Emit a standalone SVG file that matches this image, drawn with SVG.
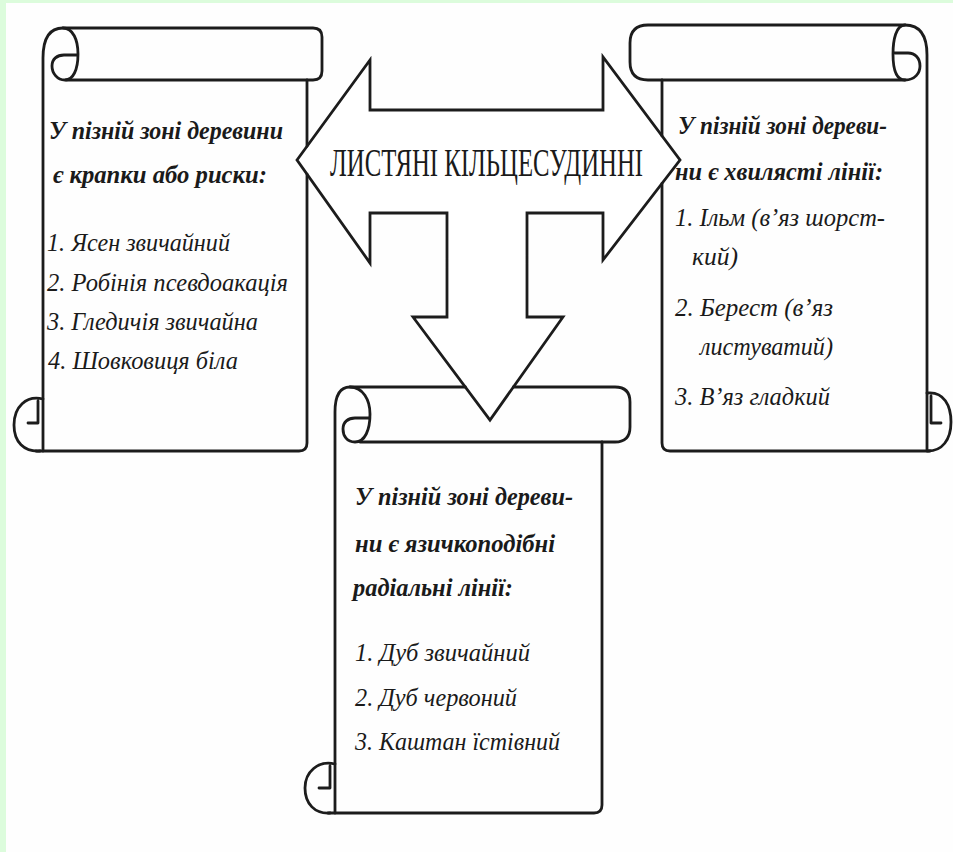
<svg xmlns="http://www.w3.org/2000/svg" width="953" height="852" viewBox="0 0 953 852">
<style>
.ln{fill:none;stroke:#1c1c1c;stroke-width:2.8;stroke-linejoin:round;stroke-linecap:round}
.ar{fill:#ffffff;stroke:#1c1c1c;stroke-width:2.8;stroke-linejoin:miter}
.h{font-family:"Liberation Serif","DejaVu Serif",serif;font-style:italic;font-weight:bold;font-size:26px;fill:#1a1a1a}
.t{font-family:"Liberation Serif","DejaVu Serif",serif;font-style:italic;font-size:26px;fill:#1a1a1a}
.c{font-family:"Liberation Serif","DejaVu Serif",serif;font-size:41px;fill:#1a1a1a}
</style>
<rect x="0" y="0" width="953" height="852" fill="#fefefe"/>
<rect x="0" y="0" width="6" height="852" fill="#dcfcdc"/>
<rect x="0" y="0" width="953" height="3" fill="#dcfcdc"/>

<g id="connectors">
<polygon class="ar" points="297,160 370,60 370,110 603,110 603,57 680,160 603,260 603,213 527,213 527,317 563,317 490,420 413,317 447,317 447,213 370,213 370,263"/>
</g>

<g id="hub">
<text class="c" transform="translate(330,176) scale(0.56,1)" x="0" y="0" textLength="559" lengthAdjust="spacingAndGlyphs">ЛИСТЯНІ КІЛЬЦЕСУДИННІ</text>
</g>

<g id="scroll-left">
<path class="ln" d="M43,451 V58 C43,38 50,28 63,28 H313 Q322,28 322,37 V71 Q322,80 313,80 H66"/>
<path class="ln" d="M63,28 C73,28 78,40 78,54 C78,70 73,80 65,80 C57,80 52,73 52,66 C52,59 57,55 64,55 H78"/>
<path class="ln" d="M307,80 V146.3 M307,174.1 V443 Q307,451 299,451 H36"/>
<path class="ln" d="M43,399 C26,395 14,407 14,425 C14,442 24,452 40,451 M38,401 V423 H28"/>
<text class="h" x="49" y="139" textLength="234" lengthAdjust="spacingAndGlyphs">У пізній зоні деревини</text>
<text class="h" x="53" y="183" textLength="214" lengthAdjust="spacingAndGlyphs">є крапки або риски:</text>
<text class="t" x="47" y="251" textLength="183" lengthAdjust="spacingAndGlyphs">1. Ясен звичайний</text>
<text class="t" x="47" y="291" textLength="241" lengthAdjust="spacingAndGlyphs">2. Робінія псевдоакація</text>
<text class="t" x="47" y="330" textLength="211" lengthAdjust="spacingAndGlyphs">3. Гледичія звичайна</text>
<text class="t" x="48" y="369" textLength="190" lengthAdjust="spacingAndGlyphs">4. Шовковиця біла</text>
</g>

<g id="scroll-right">
<path class="ln" d="M927,451 V55 C927,36 920,25 905,25 H648 Q630,25 630,43 V62 Q630,80 648,80 H905"/>
<path class="ln" d="M905,25 C896,25 893,40 893,54 C893,70 897,80 905,80 C915,80 920,73 920,66 C920,58 915,53 908,53 H895"/>
<path class="ln" d="M662,80 V135.9 M662,183.4 V443 Q662,451 670,451 H930"/>
<path class="ln" d="M927,393 C944,391 951,406 951,422 C951,440 942,451 928,451 M931,396 V423 H941"/>
<text class="h" x="678" y="134" textLength="209" lengthAdjust="spacingAndGlyphs">У пізній зоні дереви-</text>
<text class="h" x="675" y="180" textLength="208" lengthAdjust="spacingAndGlyphs">ни є хвилясті лінії:</text>
<text class="t" x="675" y="226" textLength="210" lengthAdjust="spacingAndGlyphs">1. Ільм (в’яз шорст-</text>
<text class="t" x="692" y="265" textLength="46" lengthAdjust="spacingAndGlyphs">кий)</text>
<text class="t" x="675" y="316" textLength="158" lengthAdjust="spacingAndGlyphs">2. Берест (в’яз</text>
<text class="t" x="700" y="355" textLength="133" lengthAdjust="spacingAndGlyphs">листуватий)</text>
<text class="t" x="675" y="405" textLength="155" lengthAdjust="spacingAndGlyphs">3. В’яз гладкий</text>
</g>

<g id="scroll-bottom">
<path class="ln" d="M335,813 V412 C335,395 340,387 350,387 H465.3 M513.4,387 H615 Q630,387 630,402 V427 Q630,442 615,442 H360"/>
<path class="ln" d="M350,387 C363,387 370,400 370,414 C370,430 365,442 355,442 C347,442 343,436 343,429 C343,422 348,418 355,418 H370"/>
<path class="ln" d="M602,442 V805 Q602,813 594,813 H328"/>
<path class="ln" d="M335,764 C318,760 305,772 305,788 C305,804 315,814 330,813 M330,766 V788 H319"/>
<text class="h" x="355" y="505" textLength="218" lengthAdjust="spacingAndGlyphs">У пізній зоні дереви-</text>
<text class="h" x="355" y="552" textLength="200" lengthAdjust="spacingAndGlyphs">ни є язичкоподібні</text>
<text class="h" x="353" y="596" textLength="160" lengthAdjust="spacingAndGlyphs">радіальні лінії:</text>
<text class="t" x="355" y="661" textLength="175" lengthAdjust="spacingAndGlyphs">1. Дуб звичайний</text>
<text class="t" x="355" y="706" textLength="162" lengthAdjust="spacingAndGlyphs">2. Дуб червоний</text>
<text class="t" x="355" y="750" textLength="205" lengthAdjust="spacingAndGlyphs">3. Каштан їстівний</text>
</g>
</svg>
